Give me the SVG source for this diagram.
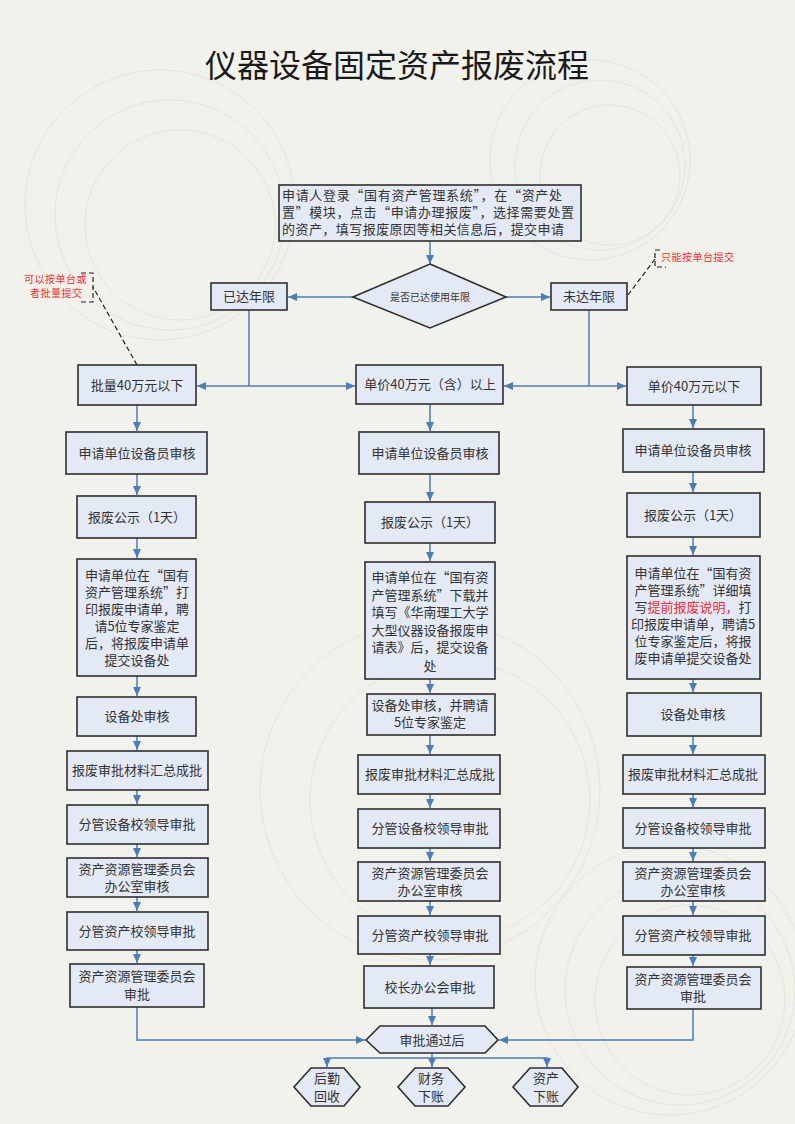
<svg xmlns="http://www.w3.org/2000/svg" width="795" height="1124" viewBox="0 0 795 1124">
  <defs>
    <style>
      .box { fill: #e4eaf5; stroke: #2e2e2e; stroke-width: 1.6; }
      .t { font-family: "Noto Sans CJK SC", "Liberation Sans", sans-serif; font-size: 13px; fill: #333333; text-anchor: middle; }
      .tl { font-family: "Noto Sans CJK SC", "Liberation Sans", sans-serif; font-size: 13px; fill: #333333; }
      .sm { font-family: "Noto Sans CJK SC", "Liberation Sans", sans-serif; font-size: 10px; fill: #333333; text-anchor: middle; }
      .red { fill: #e8303a; }
      .note { font-family: "Noto Sans CJK SC", "Liberation Sans", sans-serif; font-size: 10px; fill: #ee3333; letter-spacing: 0.5px; }
      .title { font-family: "Noto Sans CJK SC", sans-serif; font-size: 32px; fill: #1a1a1a; text-anchor: middle; }
      .flow { fill: none; stroke: #4a7ebb; stroke-width: 1.5; }
      .arr { marker-end: url(#head); }
      .dash { fill: none; stroke: #222222; stroke-width: 1.2; stroke-dasharray: 5 3; }
      .ring { fill: none; stroke: #e2e2da; stroke-width: 0.9; }
    </style>
    <marker id="head" markerUnits="userSpaceOnUse" markerWidth="10" markerHeight="9" refX="9" refY="4" orient="auto">
      <path d="M0,0 L9,4 L0,8 z" fill="#4a7ebb"/>
    </marker>
  </defs>

  <!-- page background with faint ornamental rings -->
  <rect x="0" y="0" width="795" height="1124" fill="#f2f2ec"/>
  <g id="ornament">
    <circle class="ring" cx="170" cy="215" r="115"/>
    <circle class="ring" cx="180" cy="225" r="95"/>
    <circle class="ring" cx="160" cy="205" r="135"/>
    <circle class="ring" cx="600" cy="165" r="85"/>
    <circle class="ring" cx="610" cy="175" r="70"/>
    <circle class="ring" cx="590" cy="160" r="100"/>
    <circle class="ring" cx="430" cy="790" r="170"/>
    <circle class="ring" cx="450" cy="800" r="140"/>
    <circle class="ring" cx="680" cy="990" r="115"/>
    <circle class="ring" cx="690" cy="1000" r="95"/>
    <circle class="ring" cx="670" cy="980" r="135"/>
  </g>

  <text class="title" x="397" y="77">仪器设备固定资产报废流程</text>

  <!-- connectors -->
  <g id="connectors">
    <line class="flow arr" x1="430" y1="242" x2="430" y2="264"/>
    <line class="flow arr" x1="353" y1="297" x2="288" y2="297"/>
    <line class="flow arr" x1="506" y1="297" x2="550" y2="297"/>

    <polyline class="flow" points="249,310 249,386"/>
    <line class="flow arr" x1="249" y1="386" x2="197" y2="386"/>
    <line class="flow arr" x1="249" y1="386" x2="355" y2="386"/>
    <polyline class="flow" points="589,310 589,386"/>
    <line class="flow arr" x1="589" y1="386" x2="504" y2="386"/>
    <line class="flow arr" x1="589" y1="386" x2="626" y2="386"/>

    <!-- left column -->
    <line class="flow arr" x1="137" y1="405" x2="137" y2="431"/>
    <line class="flow arr" x1="137" y1="474" x2="137" y2="495"/>
    <line class="flow arr" x1="137" y1="538" x2="137" y2="558"/>
    <line class="flow arr" x1="137" y1="676" x2="137" y2="696"/>
    <line class="flow arr" x1="137" y1="736" x2="137" y2="750"/>
    <line class="flow arr" x1="137" y1="790" x2="137" y2="804"/>
    <line class="flow arr" x1="137" y1="844" x2="137" y2="857"/>
    <line class="flow arr" x1="137" y1="897" x2="137" y2="911"/>
    <line class="flow arr" x1="137" y1="950" x2="137" y2="963"/>
    <polyline class="flow arr" points="137,1007 137,1040 365,1040"/>

    <!-- centre column -->
    <line class="flow arr" x1="430" y1="404" x2="430" y2="431"/>
    <line class="flow arr" x1="430" y1="474" x2="430" y2="501"/>
    <line class="flow arr" x1="430" y1="543" x2="430" y2="561"/>
    <line class="flow arr" x1="430" y1="679" x2="430" y2="693"/>
    <line class="flow arr" x1="430" y1="735" x2="430" y2="754"/>
    <line class="flow arr" x1="430" y1="794" x2="430" y2="808"/>
    <line class="flow arr" x1="430" y1="848" x2="430" y2="861"/>
    <line class="flow arr" x1="430" y1="901" x2="430" y2="915"/>
    <line class="flow arr" x1="430" y1="954" x2="430" y2="965"/>
    <line class="flow arr" x1="432" y1="1008" x2="432" y2="1025"/>

    <!-- right column -->
    <line class="flow arr" x1="693" y1="405" x2="693" y2="428"/>
    <line class="flow arr" x1="693" y1="472" x2="693" y2="492"/>
    <line class="flow arr" x1="693" y1="537" x2="693" y2="555"/>
    <line class="flow arr" x1="693" y1="679" x2="693" y2="692"/>
    <line class="flow arr" x1="693" y1="736" x2="693" y2="754"/>
    <line class="flow arr" x1="693" y1="794" x2="693" y2="807"/>
    <line class="flow arr" x1="693" y1="848" x2="693" y2="861"/>
    <line class="flow arr" x1="693" y1="901" x2="693" y2="915"/>
    <line class="flow arr" x1="693" y1="955" x2="693" y2="966"/>
    <polyline class="flow arr" points="693,1009 693,1040 499,1040"/>

    <!-- outcome split -->
    <line class="flow arr" x1="432" y1="1053" x2="432" y2="1067"/>
    <polyline class="flow arr" points="432,1058 327,1058 327,1067"/>
    <polyline class="flow arr" points="432,1058 547,1058 547,1067"/>

    <!-- callout leaders -->
    <line class="dash" x1="628" y1="295" x2="655" y2="259"/>
    <polyline class="dash" points="660,250 655,250 655,267 666,267"/>
    <line class="dash" x1="137" y1="365" x2="93" y2="287"/>
    <polyline class="dash" points="81,273 93,273 93,302 81,302"/>
  </g>

  <!-- callout notes -->
  <g id="note-left">
    <text class="note" x="24" y="283">可以按单台或</text>
    <text class="note" x="30" y="297">者批量提交</text>
  </g>
  <g id="note-right">
    <text class="note" x="661" y="261">只能按单台提交</text>
  </g>

  <!-- start -->
  <g id="apply">
    <rect class="box" x="279" y="185" width="302" height="56"/>
    <text class="tl" x="282" y="200" textLength="280" lengthAdjust="spacing">申请人登录“国有资产管理系统”，在“资产处</text>
    <text class="tl" x="282" y="217" textLength="292" lengthAdjust="spacing">置”模块，点击“申请办理报废”，选择需要处置</text>
    <text class="tl" x="282" y="234" textLength="282" lengthAdjust="spacing">的资产，填写报废原因等相关信息后，提交申请</text>
  </g>

  <g id="decide">
    <polygon class="box" points="430,264 506,297 430,328 353,297"/>
    <text class="sm" x="430" y="301">是否已达使用年限</text>
  </g>

  <g id="reached">
    <rect class="box" x="211" y="283" width="76" height="27"/>
    <text class="t" x="249" y="301">已达年限</text>
  </g>
  <g id="not-reached">
    <rect class="box" x="551" y="283" width="76" height="27"/>
    <text class="t" x="589" y="301">未达年限</text>
  </g>

  <!-- left column -->
  <g id="l-batch">
    <rect class="box" x="78" y="365" width="118" height="40"/>
    <text class="t" x="137" y="390">批量40万元以下</text>
  </g>
  <g id="l-officer">
    <rect class="box" x="66" y="432" width="141" height="42"/>
    <text class="t" x="137" y="458">申请单位设备员审核</text>
  </g>
  <g id="l-notice">
    <rect class="box" x="77" y="496" width="119" height="42"/>
    <text class="t" x="137" y="522">报废公示（1天）</text>
  </g>
  <g id="l-form">
    <rect class="box" x="77" y="559" width="119" height="117"/>
    <text class="t" x="137" y="580">申请单位在“国有</text>
    <text class="t" x="137" y="597">资产管理系统”打</text>
    <text class="t" x="137" y="614">印报废申请单，聘</text>
    <text class="t" x="137" y="631">请5位专家鉴定</text>
    <text class="t" x="137" y="648">后，将报废申请单</text>
    <text class="t" x="137" y="665">提交设备处</text>
  </g>
  <g id="l-dept">
    <rect class="box" x="77" y="697" width="119" height="39"/>
    <text class="t" x="137" y="721">设备处审核</text>
  </g>
  <g id="l-collect">
    <rect class="box" x="67" y="751" width="141" height="39"/>
    <text class="t" x="137" y="775">报废审批材料汇总成批</text>
  </g>
  <g id="l-equip-lead">
    <rect class="box" x="67" y="805" width="141" height="39"/>
    <text class="t" x="137" y="829">分管设备校领导审批</text>
  </g>
  <g id="l-office">
    <rect class="box" x="67" y="858" width="141" height="39"/>
    <text class="t" x="137" y="874">资产资源管理委员会</text>
    <text class="t" x="137" y="891">办公室审核</text>
  </g>
  <g id="l-asset-lead">
    <rect class="box" x="67" y="912" width="141" height="38"/>
    <text class="t" x="137" y="936">分管资产校领导审批</text>
  </g>
  <g id="l-committee">
    <rect class="box" x="70" y="964" width="134" height="43"/>
    <text class="t" x="137" y="981">资产资源管理委员会</text>
    <text class="t" x="137" y="999">审批</text>
  </g>

  <!-- centre column -->
  <g id="c-unit">
    <rect class="box" x="356" y="365" width="147" height="39"/>
    <text class="t" x="430" y="389">单价40万元（含）以上</text>
  </g>
  <g id="c-officer">
    <rect class="box" x="359" y="432" width="140" height="42"/>
    <text class="t" x="430" y="458">申请单位设备员审核</text>
  </g>
  <g id="c-notice">
    <rect class="box" x="365" y="502" width="130" height="41"/>
    <text class="t" x="430" y="527">报废公示（1天）</text>
  </g>
  <g id="c-form">
    <rect class="box" x="365" y="562" width="130" height="117"/>
    <text class="t" x="430" y="582">申请单位在“国有资</text>
    <text class="t" x="430" y="600">产管理系统”下载并</text>
    <text class="t" x="430" y="617">填写《华南理工大学</text>
    <text class="t" x="430" y="635">大型仪器设备报废申</text>
    <text class="t" x="430" y="652">请表》后，提交设备</text>
    <text class="t" x="430" y="671">处</text>
  </g>
  <g id="c-dept">
    <rect class="box" x="367" y="694" width="128" height="41"/>
    <text class="t" x="430" y="710">设备处审核，并聘请</text>
    <text class="t" x="430" y="727">5位专家鉴定</text>
  </g>
  <g id="c-collect">
    <rect class="box" x="358" y="755" width="142" height="39"/>
    <text class="t" x="430" y="779">报废审批材料汇总成批</text>
  </g>
  <g id="c-equip-lead">
    <rect class="box" x="358" y="809" width="142" height="39"/>
    <text class="t" x="430" y="833">分管设备校领导审批</text>
  </g>
  <g id="c-office">
    <rect class="box" x="358" y="862" width="142" height="39"/>
    <text class="t" x="430" y="878">资产资源管理委员会</text>
    <text class="t" x="430" y="895">办公室审核</text>
  </g>
  <g id="c-asset-lead">
    <rect class="box" x="358" y="916" width="142" height="38"/>
    <text class="t" x="430" y="940">分管资产校领导审批</text>
  </g>
  <g id="c-president">
    <rect class="box" x="364" y="966" width="130" height="42"/>
    <text class="t" x="430" y="992">校长办公会审批</text>
  </g>

  <!-- right column -->
  <g id="r-unit">
    <rect class="box" x="627" y="367" width="134" height="38"/>
    <text class="t" x="694" y="391">单价40万元以下</text>
  </g>
  <g id="r-officer">
    <rect class="box" x="623" y="429" width="141" height="43"/>
    <text class="t" x="693" y="455">申请单位设备员审核</text>
  </g>
  <g id="r-notice">
    <rect class="box" x="627" y="493" width="133" height="44"/>
    <text class="t" x="693" y="520">报废公示（1天）</text>
  </g>
  <g id="r-form">
    <rect class="box" x="627" y="556" width="133" height="123"/>
    <text class="t" x="693" y="578">申请单位在“国有资</text>
    <text class="t" x="693" y="595">产管理系统”详细填</text>
    <text class="t" x="693" y="612">写<tspan class="red">提前报废说明，</tspan>打</text>
    <text class="t" x="693" y="629">印报废申请单，聘请5</text>
    <text class="t" x="693" y="646">位专家鉴定后，将报</text>
    <text class="t" x="693" y="663">废申请单提交设备处</text>
  </g>
  <g id="r-dept">
    <rect class="box" x="627" y="693" width="134" height="43"/>
    <text class="t" x="693" y="719">设备处审核</text>
  </g>
  <g id="r-collect">
    <rect class="box" x="623" y="755" width="142" height="39"/>
    <text class="t" x="693" y="779">报废审批材料汇总成批</text>
  </g>
  <g id="r-equip-lead">
    <rect class="box" x="623" y="808" width="142" height="40"/>
    <text class="t" x="693" y="833">分管设备校领导审批</text>
  </g>
  <g id="r-office">
    <rect class="box" x="623" y="862" width="142" height="39"/>
    <text class="t" x="693" y="878">资产资源管理委员会</text>
    <text class="t" x="693" y="895">办公室审核</text>
  </g>
  <g id="r-asset-lead">
    <rect class="box" x="623" y="916" width="142" height="39"/>
    <text class="t" x="693" y="940">分管资产校领导审批</text>
  </g>
  <g id="r-committee">
    <rect class="box" x="627" y="967" width="134" height="42"/>
    <text class="t" x="693" y="984">资产资源管理委员会</text>
    <text class="t" x="693" y="1001">审批</text>
  </g>

  <!-- outcome -->
  <g id="approved">
    <polygon class="box" points="366,1040 380,1026 485,1026 498,1040 485,1053 380,1053"/>
    <text class="t" x="432" y="1045">审批通过后</text>
  </g>
  <g id="logistics">
    <polygon class="box" points="294,1087 311,1068 344,1068 360,1087 344,1106 311,1106"/>
    <text class="t" x="327" y="1083">后勤</text>
    <text class="t" x="327" y="1101">回收</text>
  </g>
  <g id="finance">
    <polygon class="box" points="398,1087 415,1068 448,1068 465,1087 448,1106 415,1106"/>
    <text class="t" x="431" y="1083">财务</text>
    <text class="t" x="431" y="1101">下账</text>
  </g>
  <g id="assets">
    <polygon class="box" points="513,1087 530,1068 562,1068 578,1087 562,1106 530,1106"/>
    <text class="t" x="546" y="1083">资产</text>
    <text class="t" x="546" y="1101">下账</text>
  </g>
</svg>
